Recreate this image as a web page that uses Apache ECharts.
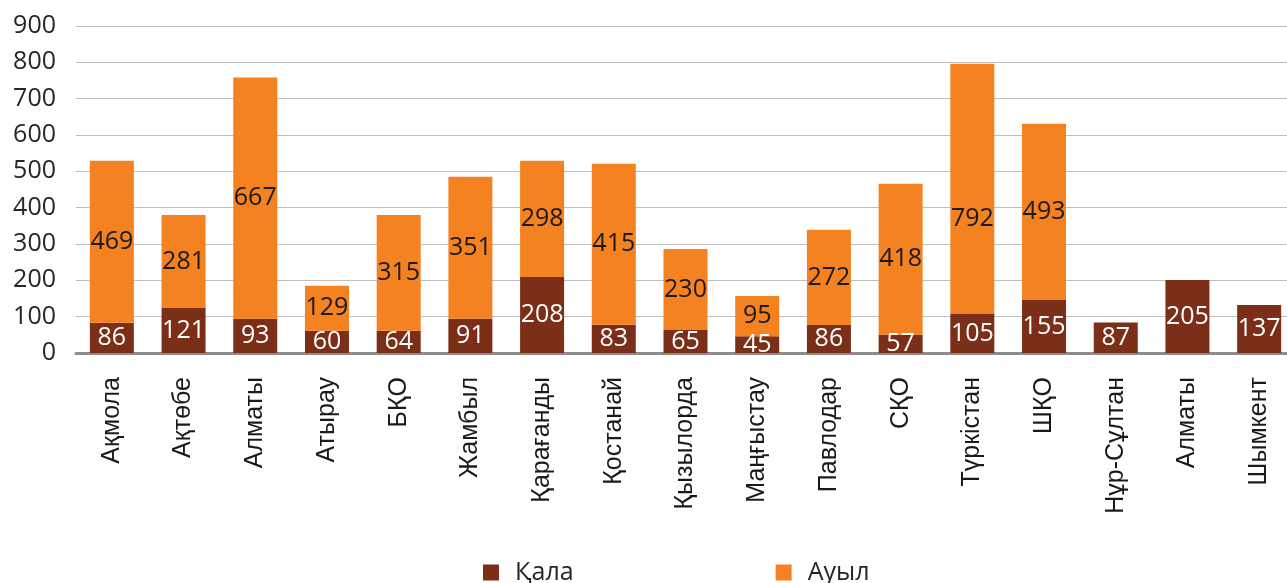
<!DOCTYPE html>
<html>
<head>
<meta charset="utf-8">
<script src="https://cdn.jsdelivr.net/npm/echarts@6/dist/echarts.min.js"></script>
<style>
  html, body { margin: 0; padding: 0; background: #fff; }
  #chart { width: 1287px; height: 583px; }
</style>
</head>
<body>
<div id="chart"></div>
<script>
// Өңірлер
const categories = ['Ақмола', 'Ақтөбе', 'Алматы', 'Атырау', 'БҚО', 'Жамбыл', 'Қарағанды', 'Қостанай',
  'Қызылорда', 'Маңғыстау', 'Павлодар', 'СҚО', 'Түркістан', 'ШҚО', 'Нұр-Сұлтан', 'Алматы', 'Шымкент']
// бағандардың биіктігі (суреттен өлшенген)
const kala = [83, 124, 94, 61, 61, 94, 209, 78, 63, 46, 77, 50, 107, 146, 84, 201, 132]
const auyl = [446, 256, 664, 124, 319, 391, 320, 443, 223, 111, 262, 416, 689, 485, null, null, null]
// бағандардағы жазулар
const kalaLabels = [86, 121, 93, 60, 64, 91, 208, 83, 65, 45, 86, 57, 105, 155, 87, 205, 137]
const auylLabels = [469, 281, 667, 129, 315, 351, 298, 415, 230, 95, 272, 418, 792, 493, null, null, null]
const yTicks = { min: 0, max: 900, interval: 100 }

const numFont = '"Open Sans", "Noto Sans", sans-serif'

let myChart = echarts.init(document.getElementById('chart'))

// Түркістан жазуы бағанның ортасынан төменірек тұр
let auylData = auyl.map(function (v, i) {
  if (i === 12) {
    return { value: v, label: { offset: [0, 30] } }
  }
  return v
})

let option = {
  animation: false,
  grid: { left: 76, top: 26, width: 1219, height: 327, outerBoundsMode: 'none', containLabel: false },
  legend: {
    left: 483,
    top: 560,
    padding: 0,
    itemWidth: 16,
    itemHeight: 16,
    itemGap: 202,
    icon: 'rect',
    textStyle: { fontFamily: numFont, fontSize: 25, color: '#262626', padding: [0, 0, 0, 11] },
    data: ['Қала', 'Ауыл']
  },
  xAxis: {
    type: 'category',
    data: categories,
    axisLine: { lineStyle: { color: '#8c8c8c', width: 3 } },
    axisTick: { show: false },
    axisLabel: {
      rotate: 90,
      margin: 24,
      interval: 0,
      fontFamily: '"Liberation Sans", Arial, sans-serif',
      fontSize: 25,
      color: '#1a1a1a'
    }
  },
  yAxis: {
    type: 'value',
    min: yTicks.min,
    max: yTicks.max,
    interval: yTicks.interval,
    axisLine: { show: false },
    axisTick: { show: false },
    splitLine: { lineStyle: { color: '#bfbfbf', width: 1 } },
    axisLabel: { margin: 20, fontFamily: numFont, fontSize: 25, color: '#262626' }
  },
  series: [{
    name: 'Қала',
    type: 'bar',
    stack: 'total',
    barWidth: 44,
    data: kala,
    itemStyle: { color: '#7b2e18' },
    label: {
      show: true, position: 'inside', color: '#fff', fontFamily: numFont, fontSize: 25,
      formatter: function (p) { return kalaLabels[p.dataIndex] }
    }
  }, {
    name: 'Ауыл',
    type: 'bar',
    stack: 'total',
    barWidth: 44,
    data: auylData,
    itemStyle: { color: '#f58220' },
    label: {
      show: true, position: 'inside', color: '#1a1a1a', fontFamily: numFont, fontSize: 25,
      formatter: function (p) { return auylLabels[p.dataIndex] }
    }
  }]
}
myChart.setOption(option)
</script>
</body>
</html>
